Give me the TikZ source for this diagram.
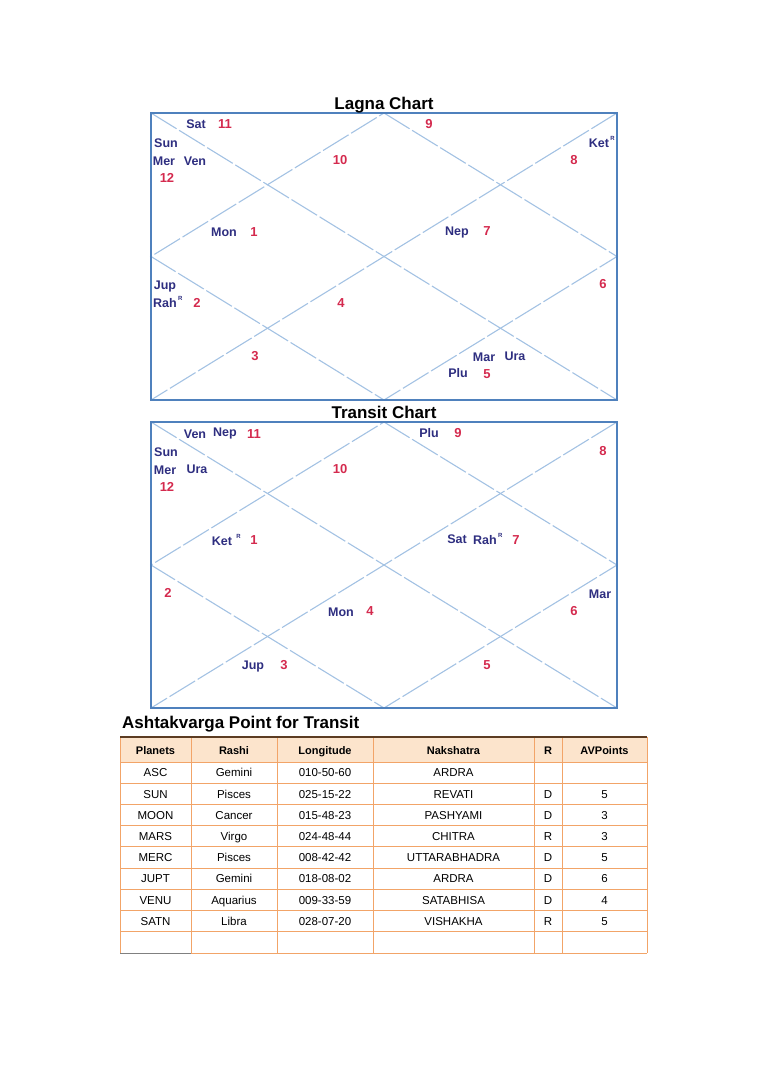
\documentclass[tikz,border=0pt]{standalone}
\usepackage{fontspec}
\setmainfont{Liberation Sans}
\usetikzlibrary{positioning}
\definecolor{boxblue}{HTML}{4F81BD}
\definecolor{diagblue}{HTML}{A3C2E3}
\definecolor{planetblue}{HTML}{2E2E80}
\definecolor{housered}{HTML}{D42A4E}
\definecolor{gridorange}{HTML}{F2A468}
\definecolor{headfill}{HTML}{FCE4CC}
\definecolor{topbrown}{HTML}{5C3C22}

\begin{document}
\begin{tikzpicture}[x=1pt,y=-1pt]
\tikzstyle{planet} = [font=\fontsize{12.5}{12.5}\selectfont\bfseries, text=planetblue, inner sep=0pt, text height=9pt, text depth=0pt]
\tikzstyle{house} = [font=\fontsize{13}{13}\selectfont\bfseries, text=housered, inner sep=0pt, text height=9.5pt, text depth=0pt]
\tikzstyle{retro} = [font=\fontsize{6}{6}\selectfont\bfseries, text=planetblue, inner sep=0pt]
\tikzstyle{title} = [font=\fontsize{17}{17}\selectfont\bfseries, inner sep=0pt, text height=12pt, text depth=0pt]
\tikzstyle{cell} = [font=\fontsize{11.5}{11.5}\selectfont, inner sep=0pt, text height=8.5pt, text depth=0pt]
\tikzstyle{headcell} = [cell, font=\fontsize{11}{11}\selectfont\bfseries]
\tikzstyle{frame} = [draw=boxblue, line width=1.8pt]
\tikzstyle{diag} = [draw=diagblue, line width=1.1pt, dash pattern=on 30pt off 3pt]
\tikzstyle{grid} = [draw=gridorange, line width=0.9pt]
\useasboundingbox (0,0) rectangle (768,1087);

% both charts: frame, diagonals, diamond
\foreach \ch/\ty/\by in {lagna/113/400, transit/422/708} {
  \pgfmathsetmacro{\my}{(\ty+\by)/2}
  \coordinate (\ch-nw) at (151,\ty);
  \coordinate (\ch-ne) at (617,\ty);
  \coordinate (\ch-sw) at (151,\by);
  \coordinate (\ch-se) at (617,\by);
  \coordinate (\ch-n) at (384,\ty);
  \coordinate (\ch-s) at (384,\by);
  \coordinate (\ch-w) at (151,\my);
  \coordinate (\ch-e) at (617,\my);
  \draw[diag] (\ch-nw) -- (\ch-se);
  \draw[diag] (\ch-ne) -- (\ch-sw);
  \draw[diag] (\ch-n) -- (\ch-e) -- (\ch-s) -- (\ch-w) -- cycle;
  \draw[frame] (\ch-nw) rectangle (\ch-se);
}

\node (lagnatitle) [title] at (384,103) {Lagna Chart};
\node (transittitle) [title] at (384,412) {Transit Chart};

% Lagna chart
\node (lsat) [planet] at (196,124) {Sat};
\node (l11) [house] at (225,124) {11};
\node (lsun) [planet] at (166,143) {Sun};
\node (lmer) [planet] at (164,161) {Mer};
\node (lven) [planet] at (195,161) {Ven};
\node (l12) [house] at (167,178) {12};
\node (l10) [house] at (340,160) {10};
\node (lmon) [planet] at (224,232) {Mon};
\node (l1) [house] at (254,232) {1};
\node (l9) [house] at (429,124) {9};
\node (lket) [planet] at (599,143) {Ket};
\node (lketr) [retro, right=1pt of lket.north east] {R};
\node (l8) [house] at (574,160) {8};
\node (lnep) [planet] at (457,231) {Nep};
\node (l7) [house] at (487,231) {7};
\node (ljup) [planet] at (165,285) {Jup};
\node (lrah) [planet] at (165,303) {Rah};
\node (lrahr) [retro, right=1pt of lrah.north east] {R};
\node (l2) [house] at (197,303) {2};
\node (l4) [house] at (341,303) {4};
\node (l3) [house] at (255,356) {3};
\node (l6) [house] at (603,284) {6};
\node (lmar) [planet] at (484,357) {Mar};
\node (lura) [planet] at (515,356) {Ura};
\node (lplu) [planet] at (458,373) {Plu};
\node (l5) [house] at (487,374) {5};

% Transit chart
\node (tven) [planet] at (195,434) {Ven};
\node (tnep) [planet] at (225,432) {Nep};
\node (t11) [house] at (254,434) {11};
\node (tsun) [planet] at (166,452) {Sun};
\node (tmer) [planet] at (165,470) {Mer};
\node (tura) [planet] at (197,469) {Ura};
\node (t12) [house] at (167,487) {12};
\node (t10) [house] at (340,469) {10};
\node (tket) [planet] at (222,541) {Ket};
\node (tketr) [retro, right=4pt of tket.north east] {R};
\node (t1) [house] at (254,540) {1};
\node (tplu) [planet] at (429,433) {Plu};
\node (t9) [house] at (458,433) {9};
\node (t8) [house] at (603,451) {8};
\node (tsat) [planet] at (457,539) {Sat};
\node (trah) [planet] at (485,540) {Rah};
\node (trahr) [retro, right=1pt of trah.north east] {R};
\node (t7) [house] at (516,540) {7};
\node (t2) [house] at (168,593) {2};
\node (tmon) [planet] at (341,612) {Mon};
\node (t4) [house] at (370,611) {4};
\node (tjup) [planet] at (253,665) {Jup};
\node (t3) [house] at (284,665) {3};
\node (tmar) [planet] at (600,594) {Mar};
\node (t6) [house] at (574,611) {6};
\node (t5) [house] at (487,665) {5};

% Ashtakvarga table
\node (avtitle) [title, anchor=west] at (122,722) {Ashtakvarga Point for Transit};
\fill[headfill] (120,737) rectangle (647,762);
\foreach \k in {0,...,8}
  \draw[grid] (120,{762+21.22*\k}) -- (647,{762+21.22*\k});
\draw[grid] (191,953) -- (647,953);
\draw[gray, line width=0.9pt] (120,953) -- (191,953);
\foreach \cx in {120,191,277,373,534,562,647}
  \draw[grid] (\cx,737) -- (\cx,953);
\draw[topbrown, line width=2pt] (120,737) -- (647,737);

\foreach \txt/\cx [count=\j] in {Planets/155.5, Rashi/234, Longitude/325, Nakshatra/453.5, R/548, AVPoints/604.5}
  \node (h\j) [headcell] at (\cx,750) {\txt};

\foreach \pl/\ra/\lo/\na/\rd/\av [count=\i] in {
    ASC/Gemini/010-50-60/ARDRA/{}/{},
    SUN/Pisces/025-15-22/REVATI/D/5,
    MOON/Cancer/015-48-23/PASHYAMI/D/3,
    MARS/Virgo/024-48-44/CHITRA/R/3,
    MERC/Pisces/008-42-42/UTTARABHADRA/D/5,
    JUPT/Gemini/018-08-02/ARDRA/D/6,
    VENU/Aquarius/009-33-59/SATABHISA/D/4,
    SATN/Libra/028-07-20/VISHAKHA/R/5} {
  \pgfmathsetmacro{\ry}{762+21.22*(\i-0.5)}
  \node (r\i c1) [cell] at (155.5,\ry) {\pl};
  \node (r\i c2) [cell] at (234,\ry) {\ra};
  \node (r\i c3) [cell] at (325,\ry) {\lo};
  \node (r\i c4) [cell] at (453.5,\ry) {\na};
  \node (r\i c5) [cell] at (548,\ry) {\rd};
  \node (r\i c6) [cell] at (604.5,\ry) {\av};
}
\end{tikzpicture}
\end{document}
